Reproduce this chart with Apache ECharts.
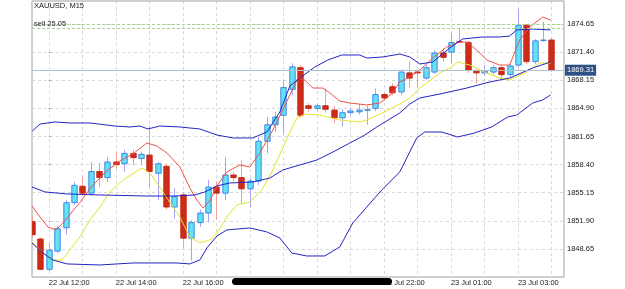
<!DOCTYPE html>
<html>
<head>
<meta charset="UTF-8"/>
<title>XAUUSD M15</title>
<script src="https://cdn.jsdelivr.net/npm/echarts@6/dist/echarts.min.js"></script>
<style>
  html, body { margin: 0; padding: 0; background: #fff; }
  #chart { width: 625px; height: 289px; }
</style>
</head>
<body>
<div id="chart"></div>
<script>
// bar positions are counted from the 22 Jul 12:00 bar (= 0); first visible bar is -2
var firstBar = -2;
var opens  = [1851.8,1849.8,1846.3,1848.4,1851.1,1854.0,1855.9,1855.1,1857.6,1856.9,1858.7,1858.5,1859.7,1859.1,1859.5,1857.4,1858.2,1853.5,1854.9,1849.9,1851.7,1852.8,1855.8,1855.1,1857.2,1856.9,1855.6,1856.5,1861.1,1863.0,1864.1,1867.1,1869.6,1865.2,1864.9,1865.2,1864.7,1863.8,1864.4,1864.5,1864.72,1864.9,1866.5,1867.4,1866.8,1869.0,1869.1,1868.4,1869.1,1871.3,1871.4,1872.62,1872.5,1869.2,1869.0,1869.1,1869.6,1868.8,1869.9,1874.5,1870.3,1872.8,1872.8];
var closes = [1850.3,1846.3,1848.5,1851.0,1854.0,1856.0,1855.1,1857.6,1856.9,1858.7,1858.4,1859.7,1859.2,1859.6,1857.6,1858.5,1853.5,1854.7,1849.9,1851.7,1852.8,1855.8,1855.1,1857.2,1856.9,1855.6,1856.5,1861.1,1863.0,1863.9,1867.3,1869.7,1864.1,1864.9,1865.2,1864.8,1863.8,1864.4,1864.6,1864.7,1864.74,1866.5,1866.1,1866.7,1869.1,1868.4,1869.0,1869.6,1871.3,1870.8,1872.5,1872.57,1869.3,1869.0,1869.2,1869.6,1868.8,1869.8,1874.5,1870.3,1872.7,1872.8,1869.3];
var highs  = [1852.5,1850.0,1849.3,1851.3,1854.3,1856.4,1857.0,1858.7,1858.6,1859.3,1859.9,1860.1,1860.1,1859.9,1862.8,1858.7,1858.5,1855.7,1855.2,1852.0,1853.2,1856.6,1856.4,1859.3,1857.6,1858.9,1856.8,1861.6,1863.9,1864.5,1868.2,1870.1,1869.9,1865.5,1865.4,1867.2,1865.2,1864.8,1865.0,1865.4,1865.2,1867.2,1866.7,1867.8,1869.4,1870.3,1869.2,1869.9,1871.6,1871.9,1873.6,1874.2,1872.7,1869.4,1869.9,1869.9,1869.9,1870.0,1876.4,1874.7,1872.9,1874.9,1873.0];
var lows   = [1850.0,1846.2,1846.1,1848.2,1850.3,1853.7,1854.8,1854.8,1855.8,1856.4,1857.9,1857.6,1858.3,1858.4,1855.8,1854.3,1853.2,1852.2,1848.8,1847.3,1851.2,1851.7,1852.0,1854.3,1856.5,1853.9,1853.5,1856.0,1859.7,1862.2,1862.0,1866.4,1863.8,1864.5,1864.6,1864.4,1863.2,1862.8,1864.1,1864.2,1863.0,1864.6,1865.8,1866.4,1866.4,1867.3,1867.3,1868.2,1868.9,1870.3,1870.1,1872.5,1869.0,1867.8,1868.7,1868.8,1868.2,1868.5,1869.6,1870.0,1870.0,1872.6,1869.1];

// indicator lines: [bar, price]
var fastMA = [[-2,1853.62],[-1.05,1852.35],[-0.1,1851.19],[0.86,1850.85],[1.81,1851.77],[2.77,1852.93],[3.96,1854.31],[5.15,1855.93],[6.11,1856.85],[7.06,1857.78],[8.49,1858.82],[10.04,1859.63],[11.71,1860.9],[12.91,1860.55],[14.1,1859.74],[15.65,1858.13],[16.84,1855.7],[17.68,1854.31],[18.4,1853.39],[19.23,1854.2],[20.07,1855.93],[21.26,1857.55],[22.81,1858.36],[24,1858.13],[25.19,1859.74],[26.74,1862.4],[27.94,1864.71],[28.78,1866.45],[29.73,1868.41],[30.56,1868.18],[31.52,1867.25],[32.71,1867.25],[33.54,1866.68],[34.74,1865.75],[35.94,1865.52],[37.96,1865.29],[39.51,1865.52],[41.06,1866.68],[41.9,1867.95],[42.85,1868.41],[44.3,1869.33],[45.83,1870.72],[47.5,1871.99],[49.05,1872.57],[49.89,1872.57],[51.08,1871.65],[52.27,1870.49],[53.82,1869.91],[55.01,1869.91],[56.21,1872.8],[57.4,1874.3],[58.95,1875.46],[59.9,1875.11]];
var slowMA = [[-2,1849.46],[-0.69,1848.2],[0.5,1847.38],[1.57,1847.38],[2.53,1848.54],[3.72,1850.04],[4.91,1852.0],[6.11,1853.5],[7.3,1855.24],[8.85,1856.62],[11.12,1858.01],[12.07,1857.43],[13.26,1855.81],[14.1,1854.54],[15.65,1852.35],[16.84,1850.04],[18.04,1849.35],[19.23,1849.69],[20.07,1850.5],[21.26,1852.35],[22.45,1853.73],[24,1854.08],[25.43,1855.47],[26.63,1857.55],[27.82,1860.09],[28.78,1862.17],[29.61,1863.79],[30.56,1864.25],[32.35,1864.13],[34.74,1863.56],[37.13,1863.33],[37.96,1863.56],[39.87,1864.37],[41.9,1865.41],[43.1,1866.1],[44.3,1867.25],[46.68,1868.99],[47.87,1869.57],[48.81,1870.26],[50.24,1869.91],[52.27,1868.99],[53.82,1868.41],[55.01,1868.18],[57.04,1869.1],[58.59,1870.14],[59.9,1870.14]];
var upperBand = [[-1.96,1862.29],[-1.05,1863.09],[0.74,1863.33],[2.53,1863.21],[4.91,1863.21],[7.9,1862.86],[9.69,1862.75],[10.88,1862.86],[11.83,1862.52],[13.26,1862.86],[15.65,1862.75],[18.04,1862.52],[20.07,1861.82],[21.97,1861.48],[24.36,1861.48],[26.03,1862.17],[27.58,1864.48],[28.78,1867.48],[29.97,1868.41],[31.76,1869.68],[33.31,1870.49],[34.98,1871.07],[37.13,1871.07],[37.96,1870.72],[39.87,1870.84],[41.9,1871.18],[43.1,1870.84],[44.3,1870.03],[45.83,1870.26],[47.85,1871.88],[49.4,1872.92],[51.8,1873.15],[53.8,1873.15],[55.0,1873.26],[55.85,1873.96],[57.76,1874.07],[59.9,1873.96]];
var middleBand = [[-2,1855.81],[-0.45,1855.24],[2.17,1855.01],[6.11,1854.89],[11.71,1854.77],[15.05,1854.77],[17.44,1854.89],[18.63,1855.24],[20.07,1855.93],[21.62,1856.28],[24.36,1856.39],[26.39,1856.85],[27.94,1857.78],[29.97,1858.36],[32.0,1858.93],[34.15,1859.97],[35.94,1860.9],[37.73,1861.82],[39.16,1862.75],[40.71,1863.67],[41.9,1864.37],[43.1,1865.41],[44.3,1866.1],[46.68,1866.56],[49.89,1867.25],[52.64,1867.95],[55.03,1868.41],[57.77,1869.57],[59.9,1870.26]];
var lowerBand = [[-2,1849.34],[-0.69,1848.18],[0.5,1847.38],[2.17,1846.92],[6.11,1846.8],[10.04,1847.03],[12.91,1847.03],[15.29,1847.03],[16.84,1846.92],[18.04,1847.38],[18.87,1848.77],[20.07,1850.15],[21.26,1850.85],[24.0,1851.08],[26.03,1850.62],[27.58,1849.92],[29.01,1848.18],[30.8,1847.84],[32.95,1847.84],[34.74,1848.89],[36.29,1851.65],[37.96,1853.5],[39.75,1855.47],[41.9,1857.55],[43.92,1861.48],[44.88,1862.17],[46.9,1862.17],[48.81,1861.59],[50.84,1862.06],[52.86,1862.75],[54.77,1863.9],[55.85,1864.13],[57.76,1865.52],[58.95,1865.87],[59.9,1866.45]];

var lastPrice = 1869.31;
var orderLevels = [1874.6, 1874.2];
var yTicks = [1848.65, 1851.90, 1855.15, 1858.40, 1861.65, 1864.90, 1868.15, 1871.40, 1874.65];
var xGridBars = [0, 4, 8, 12, 16, 20, 24, 28, 32, 36, 40, 44, 48, 52, 56, 60];
var xLabelBars = [0, 8, 16, 24, 32, 40, 48, 56];
var xLabels = ['22 Jul 12:00', '22 Jul 14:00', '22 Jul 16:00', '22 Jul 18:00', '22 Jul 20:00', '22 Jul 22:00', '23 Jul 01:00', '23 Jul 03:00'];

var candles = [];
for (var i = 0; i < opens.length; i++) {
    candles.push([firstBar + i, opens[i], closes[i], lows[i], highs[i]]);
}

var font = 'Liberation Sans, Arial, sans-serif';

function renderCandle(params, api) {
    var x = api.value(0), o = api.value(1), c = api.value(2);
    var pO = api.coord([x, o]), pC = api.coord([x, c]);
    var pL = api.coord([x, api.value(3)]), pH = api.coord([x, api.value(4)]);
    var w = api.size([1, 0])[0] * 0.64;
    var up = c >= o;
    var top = Math.min(pO[1], pC[1]);
    var h = Math.max(Math.abs(pO[1] - pC[1]), 0.5);
    var cx = Math.round(pO[0]) + 0.5;
    return {
        type: 'group',
        children: [{
            type: 'line',
            shape: { x1: cx, y1: pH[1], x2: cx, y2: pL[1] },
            style: { stroke: up ? '#a4a4f8' : '#f2a098', lineWidth: 1 }
        }, {
            type: 'rect',
            shape: { x: cx - w / 2, y: top, width: w, height: h },
            style: { fill: up ? '#62e2f2' : '#cc2c18', stroke: up ? '#3f86e6' : '#c42818', lineWidth: 1 }
        }]
    };
}

function band(name, data, color) {
    return {
        name: name, type: 'line', data: data, symbol: 'none', silent: true,
        lineStyle: { color: color, width: 1 }, z: 3
    };
}

var chart = echarts.init(document.getElementById('chart'));
chart.setOption({
    animation: false,
    grid: { left: 32, right: 61, top: 1, bottom: 12, show: true, borderColor: '#a0a0a0', borderWidth: 1, backgroundColor: '#fff' },
    xAxis: {
        type: 'value', min: firstBar, max: 61.5,
        axisLine: { show: false },
        axisTick: { show: false, customValues: xGridBars },
        axisLabel: {
            customValues: xLabelBars, align: 'left', margin: 2,
            color: '#1a1a1a', fontSize: 7.5, fontFamily: font,
            formatter: function (v) { var k = xLabelBars.indexOf(v); return k < 0 ? '' : xLabels[k]; }
        },
        splitLine: { show: true, lineStyle: { color: '#d8d8d8', type: [3, 3] } }
    },
    yAxis: {
        type: 'value', position: 'right', min: 1845.41, max: 1877.31,
        axisLine: { show: false },
        axisTick: { show: true, inside: false, length: 2, customValues: yTicks, lineStyle: { color: '#a0a0a0' } },
        axisLabel: {
            customValues: yTicks, margin: 3, color: '#1a1a1a', fontSize: 7.5, fontFamily: font,
            formatter: function (v) { return v.toFixed(2); }
        },
        splitLine: { show: true, lineStyle: { color: '#d8d8d8', type: [3, 3] } }
    },
    series: [{
        name: 'XAUUSD', type: 'custom', renderItem: renderCandle, data: candles, clip: true,
        encode: { x: 0, y: [1, 2, 3, 4] }, z: 2,
        markLine: {
            silent: true, symbol: 'none', animation: false,
            data: [{ yAxis: lastPrice }],
            lineStyle: { color: '#aebfd6', type: 'solid', width: 1 },
            label: {
                show: true, position: 'end', distance: 1, formatter: lastPrice.toFixed(2),
                color: '#fff', backgroundColor: '#2d5184', padding: [2, 2, 1, 2],
                fontSize: 7.5, fontFamily: font
            }
        }
    },
        band('fast', fastMA, '#ef5246'),
        band('slow', slowMA, '#e4e426'),
        band('upper', upperBand, '#2424c4'),
        band('middle', middleBand, '#2424c4'),
        {
            name: 'lower', type: 'line', data: lowerBand, symbol: 'none', silent: true,
            lineStyle: { color: '#2424c4', width: 1 }, z: 3,
            markLine: {
                silent: true, symbol: 'none', animation: false,
                data: orderLevels.map(function (p) { return { yAxis: p }; }),
                lineStyle: { color: '#a6d296', type: [3, 2], width: 1 },
                label: { show: false }
            }
        }
    ],
    graphic: [
        { type: 'text', left: 34, top: 2, z: 10, style: { text: 'XAUUSD, M15', fill: '#1a1a1a', font: '7.5px ' + font } },
        { type: 'text', left: 34, top: 20, z: 10, style: { text: 'sell 25.05', fill: '#1a1a1a', font: '7.5px ' + font } },
        { type: 'rect', left: 232, top: 278, z: 20, shape: { width: 160, height: 7, r: 3.5 }, style: { fill: '#000' } }
    ]
});
</script>
</body>
</html>
